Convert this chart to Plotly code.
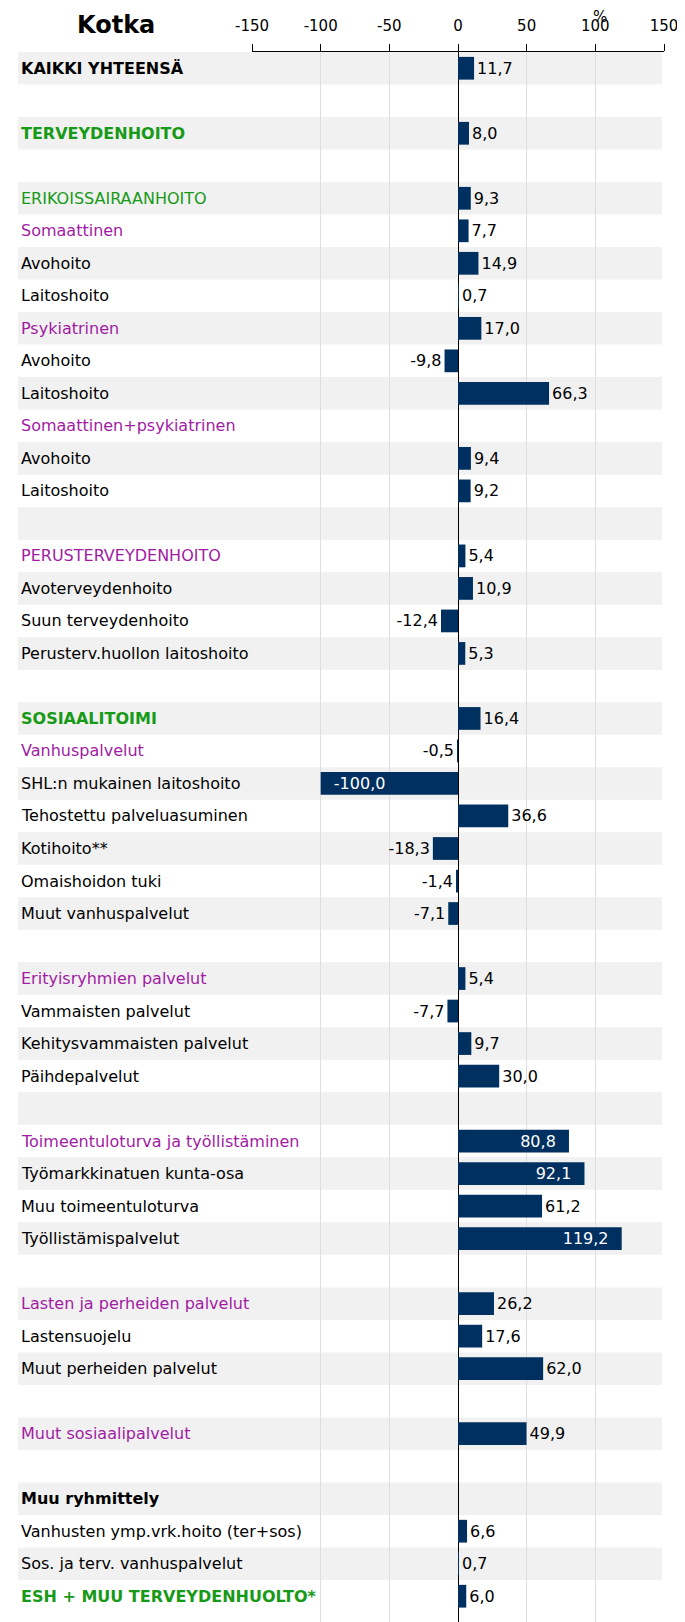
import plotly.graph_objects as go

# ---------------- data ----------------
title_text = "Kotka"
unit_text = "%"

labels = [
    "KAIKKI YHTEENSÄ", "", "TERVEYDENHOITO", "", "ERIKOISSAIRAANHOITO",
    "Somaattinen", "Avohoito", "Laitoshoito", "Psykiatrinen", "Avohoito",
    "Laitoshoito", "Somaattinen+psykiatrinen", "Avohoito", "Laitoshoito", "",
    "PERUSTERVEYDENHOITO", "Avoterveydenhoito", "Suun terveydenhoito",
    "Perusterv.huollon laitoshoito", "", "SOSIAALITOIMI", "Vanhuspalvelut",
    "SHL:n mukainen laitoshoito", "Tehostettu palveluasuminen", "Kotihoito**",
    "Omaishoidon tuki", "Muut vanhuspalvelut", "", "Erityisryhmien palvelut",
    "Vammaisten palvelut", "Kehitysvammaisten palvelut", "Päihdepalvelut", "",
    "Toimeentuloturva ja työllistäminen", "Työmarkkinatuen kunta-osa",
    "Muu toimeentuloturva", "Työllistämispalvelut", "",
    "Lasten ja perheiden palvelut", "Lastensuojelu", "Muut perheiden palvelut", "",
    "Muut sosiaalipalvelut", "", "Muu ryhmittely",
    "Vanhusten ymp.vrk.hoito (ter+sos)", "Sos. ja terv. vanhuspalvelut",
    "ESH + MUU TERVEYDENHUOLTO*",
]

values = [
    11.7, None, 8.0, None, 9.3,
    7.7, 14.9, 0.7, 17.0, -9.8,
    66.3, None, 9.4, 9.2, None,
    5.4, 10.9, -12.4,
    5.3, None, 16.4, -0.5,
    -100.0, 36.6, -18.3,
    -1.4, -7.1, None, 5.4,
    -7.7, 9.7, 30.0, None,
    80.8, 92.1,
    61.2, 119.2, None,
    26.2, 17.6, 62.0, None,
    49.9, None, None,
    6.6, 0.7,
    6.0,
]

levels = [
    "total", "", "sector", "", "area",
    "group", "item", "item", "group", "item",
    "item", "group", "item", "item", "",
    "group", "item", "item",
    "item", "", "sector", "group",
    "item", "item", "item",
    "item", "item", "", "group",
    "item", "item", "item", "",
    "group", "item",
    "item", "item", "",
    "group", "item", "item", "",
    "group", "", "total",
    "item", "item",
    "sector",
]

x_ticks = [-150, -100, -50, 0, 50, 100, 150]

# ---------------- layout constants ----------------
W, H = 685, 1622
ML, MR, MT, MB = 244, 29, 44, 0
PW = W - ML - MR
PH = H - MT - MB
ROW_PX = 32.51
n = len(labels)
y_bottom = -0.5 + PH / ROW_PX

def px_to_paper_x(px):
    return (px - ML) / PW

def px_to_paper_y(py):
    return (H - MB - py) / PH

FONT = "DejaVu Sans"
BAR_COLOR = "#00305f"
GREEN = "#179a17"
PURPLE = "#a11ba3"
BAND = "#f1f1f1"
LABEL_SIZE = 16
VALUE_SIZE = 16

style_map = {
    "total": dict(color="black", bold=True),
    "sector": dict(color=GREEN, bold=True),
    "area": dict(color=GREEN, bold=False),
    "group": dict(color=PURPLE, bold=False),
    "item": dict(color="black", bold=False),
    "": dict(color="black", bold=False),
}

rows = list(range(n))
PAD = "\u00a0\u00a0"

def fmt(v):
    if v is None:
        return ""
    return f"{v:.1f}".replace(".", ",")

def is_inside(v):
    return v is not None and abs(v) >= 75

texts = []
for v in values:
    s = fmt(v)
    if is_inside(v):
        s = s + PAD if v > 0 else PAD + s
    texts.append(s)
positions = ["inside" if is_inside(v) else "outside" for v in values]

fig = go.Figure()
fig.add_trace(go.Bar(
    x=values, y=rows, orientation="h",
    marker=dict(color=BAR_COLOR, line=dict(width=0)),
    width=0.7,
    text=texts, textposition=positions,
    insidetextanchor="end",
    insidetextfont=dict(color="white", size=VALUE_SIZE, family=FONT),
    outsidetextfont=dict(color="black", size=VALUE_SIZE, family=FONT),
    constraintext="none",
    cliponaxis=False,
    hoverinfo="skip",
))

shapes = []
for i in rows:
    if i % 2 == 0:
        shapes.append(dict(
            type="rect", xref="paper", yref="y", layer="below",
            x0=px_to_paper_x(10), x1=px_to_paper_x(654),
            y0=i - 0.5, y1=i + 0.5,
            fillcolor=BAND, line=dict(width=0),
        ))

annotations = []
for i, (lab, lev) in enumerate(zip(labels, levels)):
    if not lab:
        continue
    st = style_map[lev]
    t = f"<b>{lab}</b>" if st["bold"] else lab
    annotations.append(dict(
        x=px_to_paper_x(11), xref="paper", xanchor="left",
        y=i, yref="y", yanchor="middle",
        text=t, showarrow=False,
        font=dict(family=FONT, size=LABEL_SIZE, color=st["color"]),
    ))

annotations.append(dict(
    x=px_to_paper_x(108), xref="paper", xanchor="center",
    y=px_to_paper_y(17), yref="paper", yanchor="middle",
    text=f"<b>{title_text}</b>", showarrow=False,
    font=dict(family=FONT, size=24, color="black"),
))
annotations.append(dict(
    x=px_to_paper_x(592), xref="paper", xanchor="center",
    y=px_to_paper_y(9), yref="paper", yanchor="middle",
    text=unit_text, showarrow=False,
    font=dict(family=FONT, size=15, color="black"),
))

fig.update_layout(
    width=W, height=H,
    margin=dict(l=ML, r=MR, t=MT, b=MB, pad=0),
    paper_bgcolor="white", plot_bgcolor="rgba(0,0,0,0)",
    showlegend=False,
    shapes=shapes, annotations=annotations,
    font=dict(family=FONT, size=15, color="black"),
    xaxis=dict(
        side="top", range=[-150, 150], tickvals=x_ticks,
        ticktext=[str(t) for t in x_ticks],
        showline=True, linecolor="black", linewidth=1,
        ticks="outside", ticklen=7, tickcolor="black", tickwidth=1,
        ticklabelstandoff=7,
        showgrid=True, gridcolor="#dedede", gridwidth=1,
        zeroline=True, zerolinecolor="black", zerolinewidth=1,
        tickfont=dict(family=FONT, size=15, color="black"),
        fixedrange=True,
    ),
    yaxis=dict(
        range=[y_bottom, -0.5], showticklabels=False, showgrid=False,
        zeroline=False, showline=False, ticks="", fixedrange=True,
    ),
)

fig.write_html("out.html")
